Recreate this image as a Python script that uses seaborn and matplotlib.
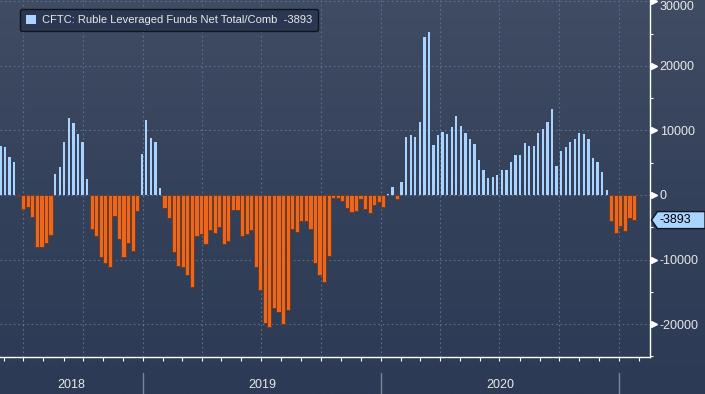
import numpy as np
import pandas as pd
import matplotlib
matplotlib.use("Agg")
import matplotlib.pyplot as plt
import seaborn as sns
from matplotlib.colors import LinearSegmentedColormap
from matplotlib.patches import Polygon, Patch
from matplotlib.transforms import blended_transform_factory, IdentityTransform
from matplotlib.ticker import FixedLocator, NullFormatter

# ---------------- data ----------------
first_week = "2018-05-29"          # weekly CFTC report dates (Tuesdays)
net_positions = [
    7600, 7400, 5900, 5100, -150, -2150, -1850, -3450, -8100, -8000, -7400, -6150,
    3260, 4340, 8220, 11940, 11170, 9460, 8170, 2480,
    -5220, -6310, -9560, -10500, -11220, -3200, -6770, -9560, -7390, -8630, -2430,
    6360, 11630, 8840, 8220, 1030,
    -1960, -3520, -8790, -10960, -11120, -12360, -14220, -6310, -6000, -7550,
    -5380, -5840, -4910, -7550, -7080, -2270, -2270, -6310, -6000, -5380,
    -11120, -14650, -19850, -20410, -17470, -18090, -19950, -17780,
    -5220, -5680, -4000, -4000, -5220, -10490, -12370, -13440, -9430,
    -400, -400, -880, -1960, -2600, -2430, -570, -2120, -2740, -1500, -1030, -1810,
    120, 1190, -620, 2020, 9020, 9300, 9040, 11320, 24500, 25300,
    7750, 9300, 9770, 9460, 10540, 12250, 10700, 9610, 8680, 7910,
    5430, 3880, 2640, 2790, 3100, 3880, 3880, 5120, 6200, 6200,
    8060, 7600, 7600, 9610, 10230, 11320, 13330,
    4500, 6820, 7440, 8220, 8680, 9610, 9460, 8680, 5740, 5120, 3570, 780,
    -4030, -5890, -4780, -5550, -3540, -3893,
]
series_label = "CFTC: Ruble Leveraged Funds Net Total/Comb"
last_value = -3893
year_labels = ["2018", "2019", "2020"]
y_ticks = [-20000, -10000, 0, 10000, 20000, 30000]
y_minor = [-25000, -15000, -5000, 5000, 15000, 25000]

dates = pd.date_range(first_week, periods=len(net_positions), freq="7D")
df = pd.DataFrame({"pos": np.arange(len(net_positions)), "date": dates,
                   "value": net_positions})

def date_pos(d):
    return (pd.Timestamp(d) - dates[0]).days / 7 + 0.3

# ---------------- style ----------------
sns.set_style("dark")
plt.rcParams["font.family"] = ["Liberation Sans", "DejaVu Sans"]

BLUE = "#a8d4ff"
ORANGE = "#ec671e"
GRID = "#5f708a"
TXT = "#e8e8e8"

fig = plt.figure(figsize=(7.05, 3.94), dpi=100)

bg = fig.add_axes([0, 0, 1, 1], zorder=0)
grad = np.linspace(0, 1, 256)[:, None]
cmap = LinearSegmentedColormap.from_list("bg", ["#404c63", "#34415a", "#2c3a55"])
bg.imshow(grad, aspect="auto", cmap=cmap, extent=[0, 1, 0, 1], origin="upper")
bg.axis("off")

ax = fig.add_axes([0, 1 - 357 / 394, 650 / 705, 357 / 394], zorder=1)
ax.patch.set_alpha(0)

pos_df = df[df["value"] >= 0]
neg_df = df[df["value"] < 0]
sns.barplot(data=pos_df, x="pos", y="value", orient="x", native_scale=True,
            width=0.5, color=BLUE, saturation=1, linewidth=0, errorbar=None,
            ax=ax, zorder=3)
sns.barplot(data=neg_df, x="pos", y="value", orient="x", native_scale=True,
            width=0.92, color=ORANGE, saturation=1, edgecolor="#6e3b22",
            linewidth=0.7, errorbar=None, ax=ax, zorder=3)

ax.set_xlim(-0.1, 142.5)
ax.set_ylim(-25100, 30200)
ax.set_xlabel("")
ax.set_ylabel("")
ax.grid(False)

# gridlines
for yv in y_ticks:
    ax.axhline(yv, color=GRID, lw=0.8, ls=(0, (1.5, 2.5)), zorder=1)
for q in pd.date_range("2018-07-01", "2021-01-01", freq="QS"):
    ax.axvline(date_pos(q), color=GRID, lw=0.8, ls=(0, (1.5, 2.5)), zorder=1)

# spines
for s in ["top", "left"]:
    ax.spines[s].set_visible(False)
for s in ["right", "bottom"]:
    ax.spines[s].set_visible(True)
    ax.spines[s].set_color("white")
    ax.spines[s].set_linewidth(1)

# y axis on the right
ax.yaxis.tick_right()
ax.yaxis.set_major_locator(FixedLocator(y_ticks))
ax.set_yticklabels([str(v) for v in y_ticks])
ax.yaxis.set_minor_locator(FixedLocator(y_minor))
ax.tick_params(axis="y", which="major", length=0, pad=7, labelsize=9,
               labelcolor=TXT, left=False, right=True)
ax.tick_params(axis="y", which="minor", length=2.5, width=0.8, color="white",
               direction="out", left=False, right=True)
for lab in ax.get_yticklabels():
    if lab.get_text() == str(max(y_ticks)):
        lab.set_verticalalignment("top")
tri_tr = blended_transform_factory(ax.transAxes, ax.transData)
ax.plot([1.0055] * len(y_ticks), y_ticks, ls="none", marker=">", ms=4.5,
        color="white", transform=tri_tr, clip_on=False, zorder=5)

# x axis: month ticks, year separators and labels
months = pd.date_range("2018-06-01", "2021-02-01", freq="MS")
ax.xaxis.set_major_locator(FixedLocator([date_pos(m) for m in months]))
ax.xaxis.set_major_formatter(NullFormatter())
ax.tick_params(axis="x", which="major", length=3, width=0.8, color="white",
               direction="out", bottom=True)
xb = blended_transform_factory(ax.transData, ax.transAxes)
bounds = [ax.get_xlim()[0]] + [date_pos(f"{y}-01-01") for y in (2019, 2020, 2021)]
for b in bounds[1:]:
    ax.plot([b, b], [-0.045, -0.11], color="#7d8597", lw=1, transform=xb,
            clip_on=False)
for i, lab in enumerate(year_labels):
    ax.text((bounds[i] + bounds[i + 1]) / 2, -0.078, lab, transform=xb,
            ha="center", va="center", color=TXT, fontsize=9)

# legend
leg = ax.legend(handles=[Patch(facecolor=BLUE, edgecolor="none")],
                labels=[f"{series_label}  {last_value}"],
                loc="upper left", bbox_to_anchor=(0.031, 0.976),
                frameon=True, fancybox=True, fontsize=8, handlelength=0.9,
                handleheight=0.9, handletextpad=0.5, borderpad=0.55,
                borderaxespad=0)
leg.get_frame().set_facecolor("#2b3750")
leg.get_frame().set_edgecolor("#0e1320")
leg.get_frame().set_linewidth(1)
leg.get_frame().set_alpha(1)
for t in leg.get_texts():
    t.set_color(TXT)

# last value tag on the right axis
y_pix = ax.transData.transform((0, last_value))[1]
x_ax = ax.transAxes.transform((1, 0))[0]
h = 8.5
tag = Polygon([(x_ax + 1.5, y_pix), (x_ax + 7.5, y_pix + h), (705, y_pix + h),
               (705, y_pix - h), (x_ax + 7.5, y_pix - h)], closed=True,
              facecolor=BLUE, edgecolor="#10151f", lw=1,
              transform=IdentityTransform(), zorder=10)
fig.add_artist(tag)
fig.text(x_ax + 10, y_pix, str(last_value), transform=IdentityTransform(),
         color="black", fontsize=9, va="center", ha="left", zorder=11)

fig.savefig("out.png", dpi=100)
